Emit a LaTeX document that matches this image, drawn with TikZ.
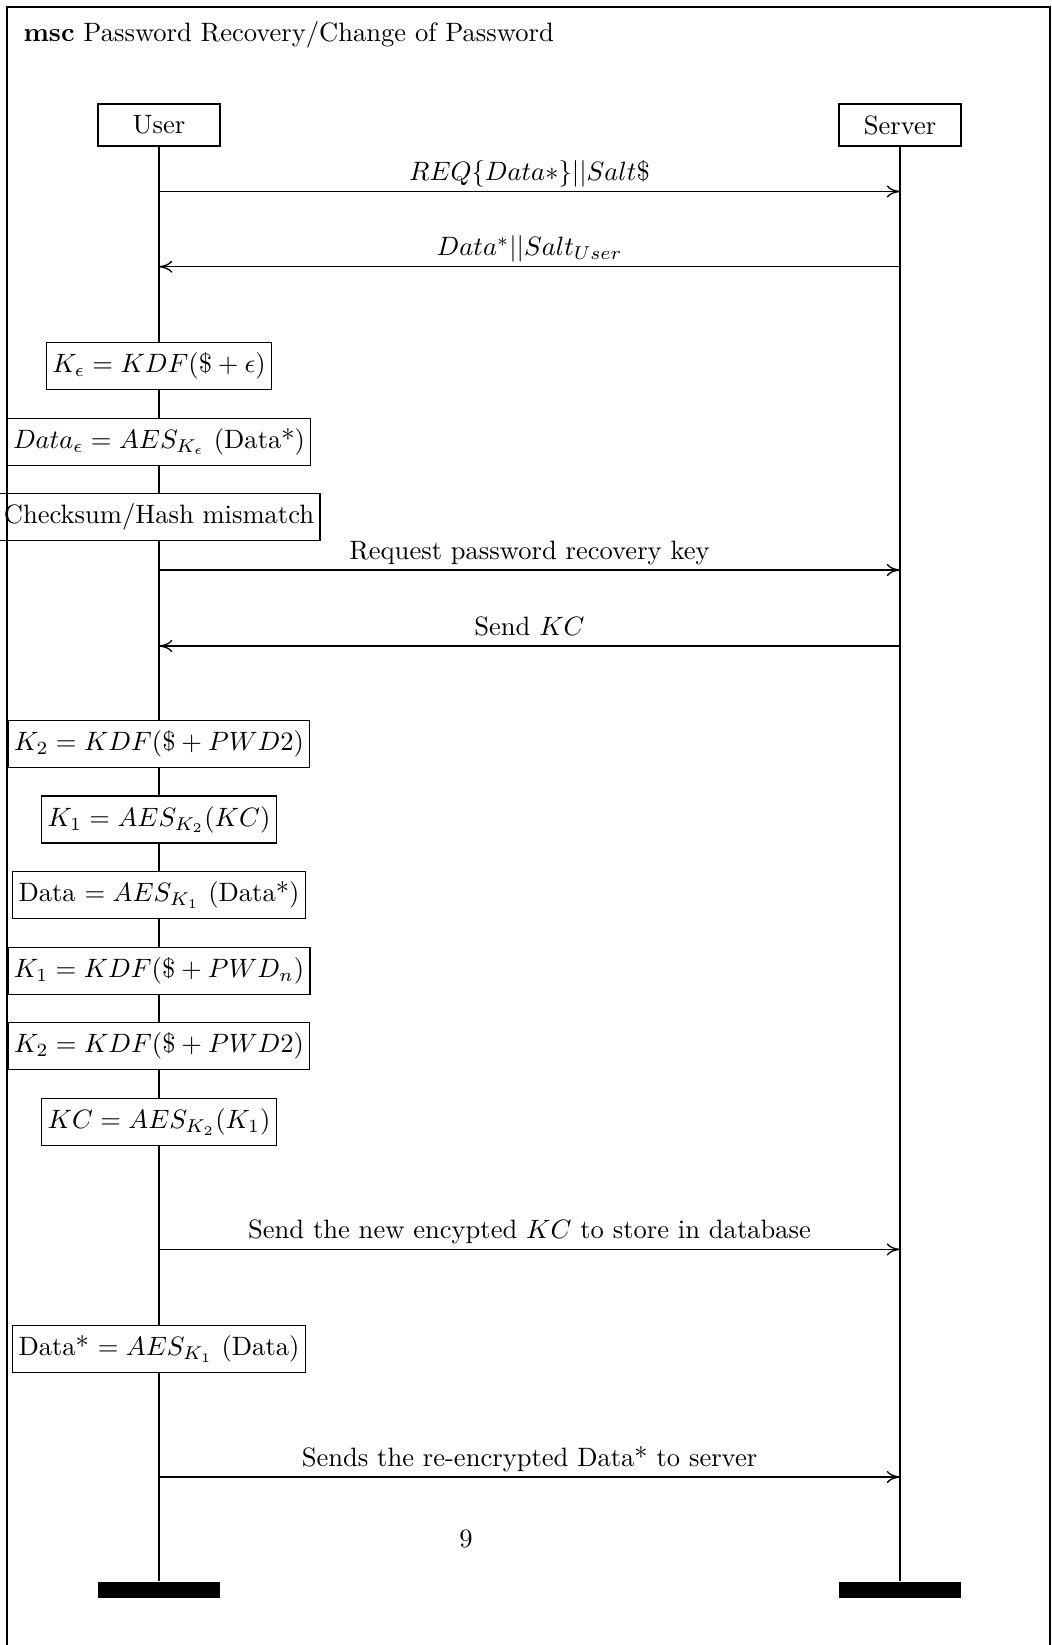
\documentclass[tikz,border=0pt]{standalone}
\usetikzlibrary{arrows.meta}
\begin{document}
\begin{tikzpicture}[
  x=0.3765pt, y=-0.3765pt,
  head/.style={draw, fill=white, line width=0.5pt, minimum width=45.9pt,
               minimum height=15.8pt, inner sep=0pt},
  endbar/.style={fill=black, minimum width=45.9pt, minimum height=6.25pt, inner sep=0pt},
  act/.style={draw, fill=white, line width=0.5pt, minimum height=17.7pt,
              inner xsep=2.2pt, inner ysep=0pt},
  life/.style={line width=0.5pt},
  msg/.style={line width=0.5pt, -{To[length=5pt,width=4.6pt]}},
  lbl/.style={anchor=base, yshift=4.1pt, inner sep=0pt},
  frame/.style={line width=0.5pt}
]
\useasboundingbox (0,0) rectangle (1051,1645);

% title
\node[anchor=base west, inner sep=0pt] (title) at (23,41.7)
  {\textbf{msc} Password Recovery/Change of Password};

% instances
\node[head] (user) at (159,125) {User};
\node[head] (server) at (900,125) {Server};
\node[endbar] (userend) at (159,1590) {};
\node[endbar] (serverend) at (900,1590) {};
\draw[life] (user) -- (userend);
\draw[life] (server) -- (serverend);

% message end points
\coordinate (m1u) at (159,191.5);  \coordinate (m1s) at (900,191.5);
\coordinate (m2u) at (159,266.7);  \coordinate (m2s) at (900,266.7);
\coordinate (m3u) at (159,570);    \coordinate (m3s) at (900,570);
\coordinate (m4u) at (159,646);    \coordinate (m4s) at (900,646);
\coordinate (m5u) at (159,1249.4); \coordinate (m5s) at (900,1249.4);
\coordinate (m6u) at (159,1477);   \coordinate (m6s) at (900,1477);

% messages
\draw[msg] (m1u) -- node[lbl] (l1) {$REQ\{Data*\}||Salt\$$} (m1s);
\draw[msg] (m2s) -- node[lbl] (l2) {$Data^*||Salt_{User}$} (m2u);
\draw[msg] (m3u) -- node[lbl] (l3) {Request password recovery key} (m3s);
\draw[msg] (m4s) -- node[lbl] (l4) {Send $KC$} (m4u);
\draw[msg] (m5u) -- node[lbl] (l5) {Send the new encypted $KC$ to store in database} (m5s);
\draw[msg] (m6u) -- node[lbl] (l6) {Sends the re-encrypted Data* to server} (m6s);

% local actions of the user
\node[act] (a1) at (159,366.3) {$K_\epsilon = KDF(\$+\epsilon)$};
\node[act] (a2) at (159,441.7) {$Data_\epsilon = AES_{K_\epsilon}$ (Data*)};
\node[act] (a3) at (159,517)   {Checksum/Hash mismatch};
\node[act] (a4) at (159,744.2) {$K_2 = KDF(\$+PWD2)$};
\node[act] (a5) at (159,819.5) {$K_1 = AES_{K_2}(KC)$};
\node[act] (a6) at (159,895.3) {Data $= AES_{K_1}$ (Data*)};
\node[act] (a7) at (159,970.8) {$K_1 = KDF(\$+PWD_n)$};
\node[act] (a8) at (159,1046.3) {$K_2 = KDF(\$+PWD2)$};
\node[act] (a9) at (159,1122)  {$KC = AES_{K_2}(K_1)$};
\node[act] (a10) at (159,1349) {Data* $= AES_{K_1}$ (Data)};

% page number
\node[anchor=base, inner sep=0pt] (pagenum) at (466,1547) {9};

% enclosing frame
\draw[frame] (7,1645) -- (7,7) -- (1050,7) -- (1050,1645);
\end{tikzpicture}
\end{document}
